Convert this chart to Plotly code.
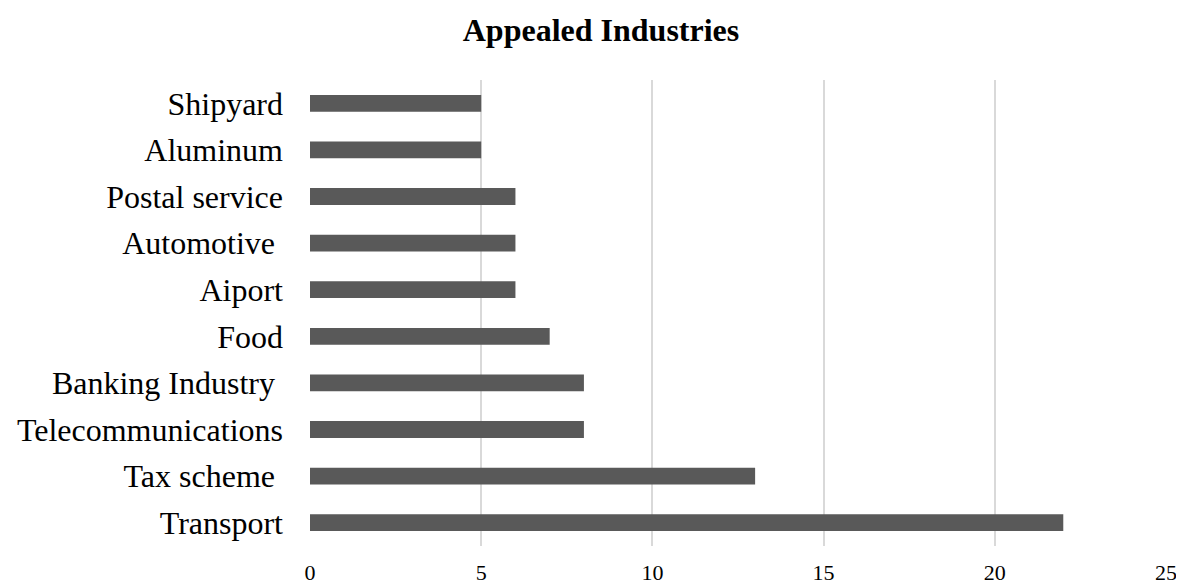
import plotly.graph_objects as go

industries = ["Transport", "Tax scheme\u00a0", "Telecommunications", "Banking Industry\u00a0",
              "Food", "Aiport", "Automotive\u00a0", "Postal service", "Aluminum", "Shipyard"]
counts = [22, 13, 8, 8, 7, 6, 6, 6, 5, 5]
x_ticks = [0, 5, 10, 15, 20, 25]

fig = go.Figure(go.Bar(
    x=counts, y=industries, orientation="h",
    marker=dict(color="#595959", line=dict(width=0)),
    width=0.36,
))

# the page body adds an 8px offset; margins compensate for it
fig.update_layout(
    width=1184, height=584,
    paper_bgcolor="white", plot_bgcolor="white",
    margin=dict(l=302, r=26, t=72, b=46, autoexpand=False),
    title=dict(text="<b>Appealed Industries</b>", x=593 / 1184, xanchor="center",
               xref="container", yref="container", y=1 - 22 / 584, yanchor="middle",
               font=dict(family="Liberation Serif", size=32, color="black")),
    font=dict(family="Liberation Serif", color="black"),
    showlegend=False,
)
fig.update_xaxes(range=[0, 25], tickvals=x_ticks, ticktext=[str(v) for v in x_ticks],
                 showgrid=True, gridcolor="#d9d9d9", gridwidth=1.5,
                 zeroline=False, showline=False, automargin=False,
                 tickfont=dict(family="Liberation Serif", size=22, color="black"),
                 ticklabelstandoff=11)
fig.update_yaxes(type="category", categoryorder="array", categoryarray=industries,
                 showgrid=False, zeroline=False, showline=False, automargin=False,
                 tickfont=dict(family="Liberation Serif", size=32, color="black"),
                 ticklabelstandoff=26)

fig.write_html("out.html")
